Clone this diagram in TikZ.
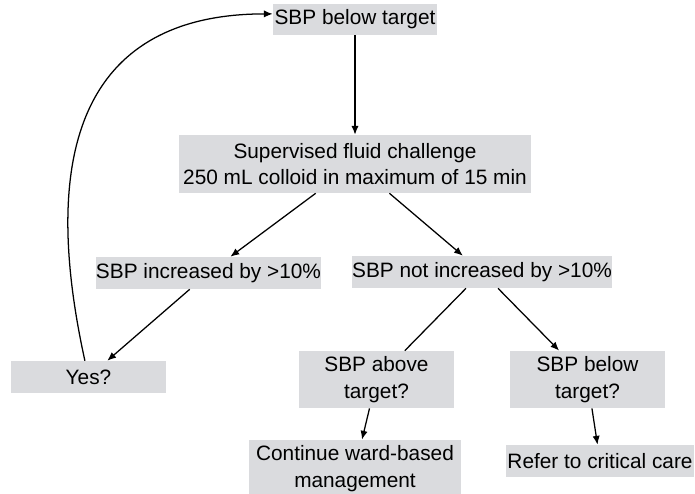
\documentclass[tikz,border=0pt]{standalone}
\usepackage{fontspec}
\setmainfont{Liberation Sans}
\usetikzlibrary{arrows.meta}
\definecolor{boxgray}{RGB}{218,219,222}

\begin{document}
\begin{tikzpicture}[
    x=0.025cm, y=-0.025cm,
    font=\fontsize{14.8}{19}\selectfont,
    box/.style={fill=boxgray, inner sep=0pt, align=center, minimum height=0.8cm},
    tallbox/.style={box, minimum height=1.43cm},
    arr/.style={-{Latex[length=2.2mm,width=1.8mm]}, line width=0.9pt},
    plain/.style={line width=0.9pt}
]
\useasboundingbox (0,0) rectangle (695,493);

\node[box, minimum width=4.1cm, minimum height=0.78cm] (below) at (355,19.5) {SBP below target};
\node[tallbox, minimum width=8.8cm, minimum height=1.45cm] (fluid) at (355,164) {Supervised fluid challenge\\250 mL colloid in maximum of 15 min};
\node[box, minimum width=5.48cm] (incr) at (208.5,273) {SBP increased by >10\%};
\node[box, minimum width=6.45cm] (noincr) at (482,272) {SBP not increased by >10\%};
\node[box, minimum width=3.88cm] (yes) at (88.5,377) {Yes?};
\node[tallbox, minimum width=3.88cm] (above) at (376.5,379.5) {SBP above\\target?};
\node[tallbox, minimum width=3.88cm] (belowq) at (587.5,379.5) {SBP below\\target?};
\node[tallbox, minimum width=5.3cm] (cont) at (355,468.5) {Continue ward-based\\management};
\node[box, minimum width=4.7cm] (refer) at (600,461) {Refer to critical care};

\draw[arr] (below) -- (fluid);
\draw[arr] (fluid) -- (incr);
\draw[arr] (fluid) -- (noincr);
\draw[arr] (incr) -- (yes);
\draw[plain] (noincr) -- (above);
\draw[arr] (noincr) -- (belowq);
\draw[arr] (above) -- (cont);
\draw[arr] (belowq) -- (refer);
% back to the start
\draw[arr] ([xshift=-0.9mm]yes.north) .. controls +(-55,-250) and +(-160,0) .. ([yshift=1.4mm]below.west);
\end{tikzpicture}
\end{document}
